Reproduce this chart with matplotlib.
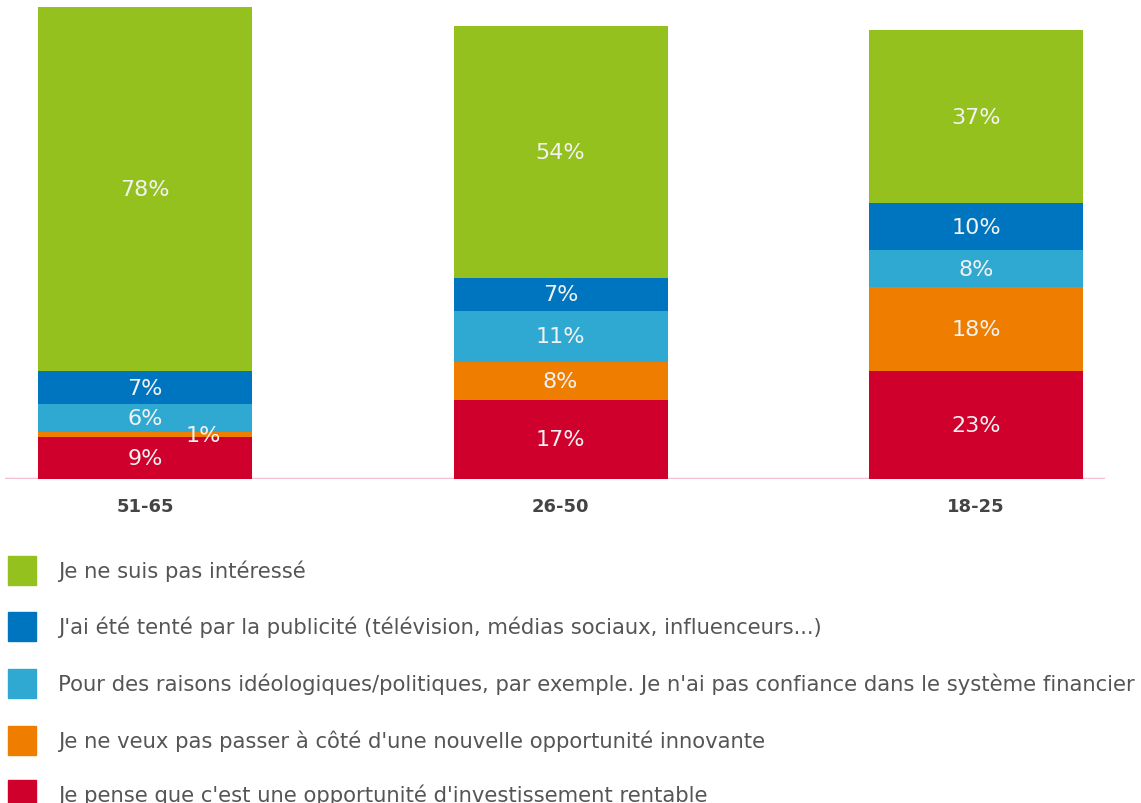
import numpy as np
import matplotlib.pyplot as plt
from matplotlib.patches import Rectangle

plt.rcParams['font.family'] = 'DejaVu Sans'

# données
groupes = ['51-65', '26-50', '18-25']
series = [
    "Je pense que c'est une opportunité d'investissement rentable",
    "Je ne veux pas passer à côté d'une nouvelle opportunité innovante",
    "Pour des raisons idéologiques/politiques, par exemple. Je n'ai pas confiance dans le système financier",
    "J'ai été tenté par la publicité (télévision, médias sociaux, influenceurs...)",
    "Je ne suis pas intéressé",
]
rentable = [9, 17, 23]
innovante = [1, 8, 18]
ideologique = [6, 11, 8]
publicite = [7, 7, 10]
pas_interesse = [78, 54, 37]
couleurs = ['#D0002C', '#EF7D00', '#2FA9D2', '#0075BF', '#95C11F']

valeurs = [rentable, innovante, ideologique, publicite, pas_interesse]

fig = plt.figure(figsize=(11.41, 8.04), dpi=100)
ax = fig.add_axes([0.0044, 0.403, 0.964, 0.597])

x = np.arange(len(groupes))
bas = np.zeros(len(groupes))
for vals, c in zip(valeurs, couleurs):
    vals = np.array(vals, dtype=float)
    ax.bar(x, vals, bottom=bas, width=0.515, color=c, edgecolor='none', zorder=2)
    for xi, b, v in zip(x, bas, vals):
        dx = 0.14 if v < 3 else 0   # petite valeur : étiquette décalée
        ax.text(xi + dx, b + v / 2, f'{int(v)}%', ha='center', va='center',
                color='#F2F2F2', fontsize=16, zorder=3)
    bas += vals

ax.set_xlim(-0.337, 2.31)
ax.set_ylim(0, 102.7)
ax.axhline(0, color='#F5BFD0', lw=2.5, zorder=1)
for s in ax.spines.values():
    s.set_visible(False)
ax.set_yticks([])
ax.set_xticks(x)
ax.set_xticklabels(groupes, fontsize=13, fontweight='bold', color='#444444')
ax.tick_params(axis='x', length=0, pad=13)

# légende
ordre = list(range(len(series)))[::-1]
rangs = [571, 627, 684, 741, 795]
for k, i in enumerate(ordre):
    y = 804 - rangs[k]
    fig.add_artist(Rectangle((8 / 1141, (y - 14.5) / 804), 28 / 1141, 29 / 804,
                             transform=fig.transFigure, color=couleurs[i]))
    fig.text(58 / 1141, y / 804, series[i], va='center', ha='left',
             fontsize=15.2, color='#555555')

plt.savefig('out.png', dpi=100)
